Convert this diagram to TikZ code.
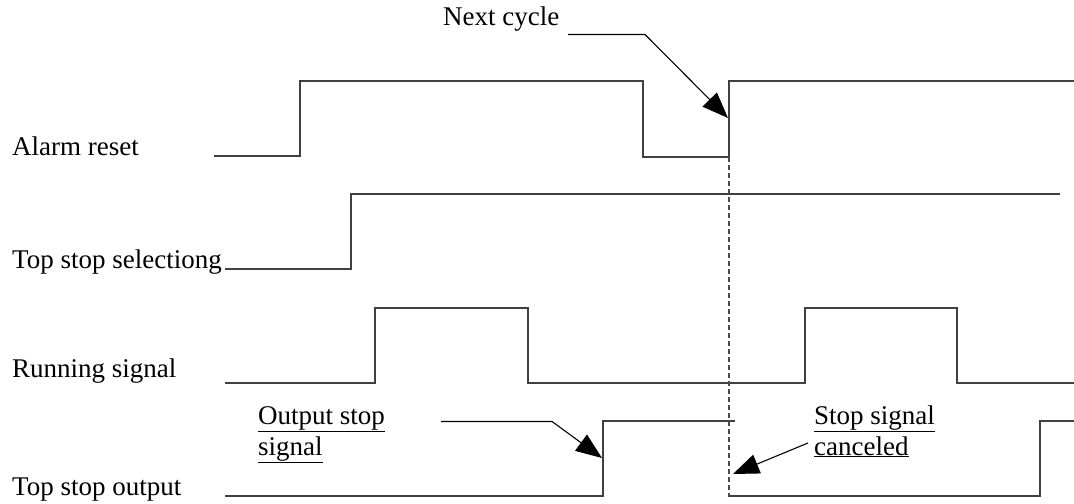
\documentclass[tikz,border=0pt]{standalone}
\usepackage{fontspec}
\setmainfont{Liberation Serif}
\usetikzlibrary{arrows.meta}
\begin{document}
\begin{tikzpicture}[x=1bp,y=-1bp,
  sig/.style={line width=1.4bp, draw=black!75, line join=miter},
  guide/.style={line width=1.1bp, draw=black!70, dash pattern=on 5bp off 3bp},
  lead/.style={line width=1.1bp, draw=black},
  arr/.style={lead, -{Triangle[length=26bp,width=20bp]}},
  lbl/.style={font=\fontsize{27bp}{31bp}\selectfont, inner sep=0pt, anchor=base west}]
\useasboundingbox (0,0) rectangle (1074,504);

% labels
\node[lbl] (alarm) at (12,156) {Alarm reset};
\node[lbl] (sel) at (12,269) {Top stop selectiong};
\node[lbl] (run) at (12,378) {Running signal};
\node[lbl] (out) at (12,495) {Top stop output};
\node[lbl] (next) at (443,26) {Next cycle};
\node[lbl] (os1) at (258,424) {\underline{Output stop}};
\node[lbl] (os2) at (258,455) {\underline{signal}};
\node[lbl] (sc1) at (814,424) {\underline{Stop signal}};
\node[lbl] (sc2) at (814,455) {\underline{canceled}};

% signals
\draw[sig] (214,156) -- (300,156) -- (300,81) -- (643,81) -- (643,157) -- (729,157) -- (729,81) -- (1074,81);
\draw[sig] (225,269) -- (351,269) -- (351,194) -- (1060,194);
\draw[sig] (225,383) -- (375,383) -- (375,308) -- (528,308) -- (528,383) -- (805,383) -- (805,308) -- (957,308) -- (957,383) -- (1074,383);
\draw[sig] (225,496) -- (603,496) -- (603,421) -- (735,421);
\draw[sig] (729,496) -- (1040,496) -- (1040,421) -- (1074,421);
\draw[guide] (729,157) -- (729,497);

% leaders
\coordinate (nca) at (568,34.5);
\coordinate (ncb) at (645,34.5);
\coordinate (nct) at (728,118);
\draw[arr] (nca) -- (ncb) -- (nct);
\coordinate (osa) at (441,421.5);
\coordinate (osb) at (552,421.5);
\coordinate (ost) at (602,458);
\draw[arr] (osa) -- (osb) -- (ost);
\coordinate (sca) at (808,443);
\coordinate (sct) at (733,474);
\draw[arr] (sca) -- (sct);
\end{tikzpicture}
\end{document}
